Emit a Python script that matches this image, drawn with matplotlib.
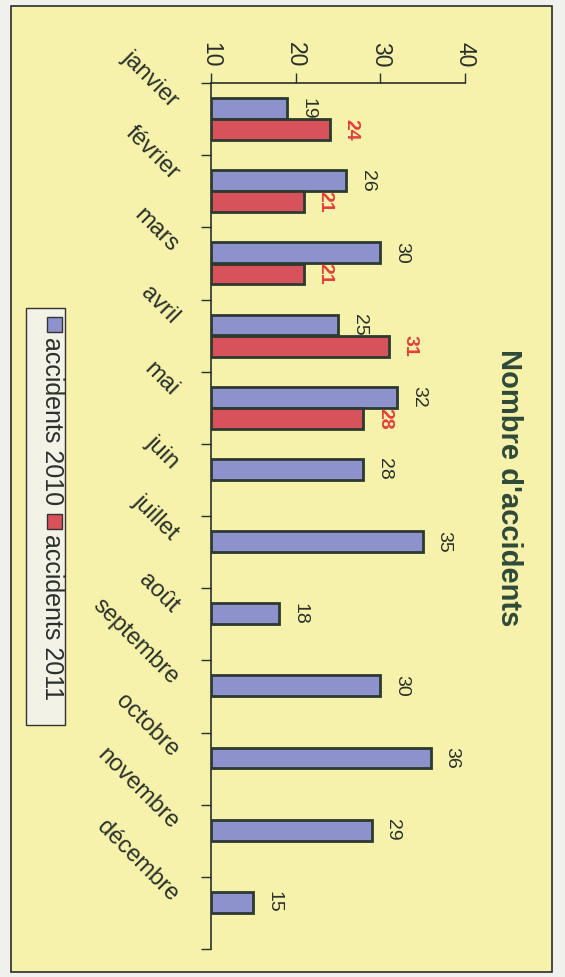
import matplotlib
matplotlib.use('Agg')
import matplotlib.pyplot as plt
from matplotlib.patches import Rectangle
import matplotlib.transforms as mtransforms

months = ['janvier', 'février', 'mars', 'avril', 'mai', 'juin', 'juillet',
          'août', 'septembre', 'octobre', 'novembre', 'décembre']
acc2010 = [19, 26, 30, 25, 32, 28, 35, 18, 30, 36, 29, 15]
acc2011 = [24, 21, 21, 31, 28, None, None, None, None, None, None, None]
xticks = [10, 20, 30, 40]
title = "Nombre d'accidents"
legend_labels = ['accidents 2010', 'accidents 2011']

BLUE = '#8e92cc'
RED = '#d8525c'
EDGE = '#2d3a30'
TXT = '#2a302a'

plt.rcParams['font.family'] = ['Liberation Sans', 'DejaVu Sans']

W, H = 565, 977
fig = plt.figure(figsize=(5.65, 9.77), dpi=100)
fig.patch.set_facecolor('#f0f0ec')


def fx(px):
    return px / W


def fy(py):
    return 1 - py / H


fig.patches.append(Rectangle((fx(11), fy(972)), fx(552) - fx(11), fy(6) - fy(972),
                             transform=fig.transFigure, facecolor='#f6f2ab',
                             edgecolor='#2a2a2a', lw=1.2, zorder=-10))

ax = fig.add_axes([fx(211), fy(949), fx(465) - fx(211), fy(83) - fy(949)])
ax.set_facecolor('none')
ax.set_zorder(5)

n = len(months)
pos = list(range(n))
bh = 0.29
off = 0.147
for i in pos:
    ax.barh(i - off, acc2010[i] - 10, left=10, height=bh, color=BLUE,
            edgecolor=EDGE, linewidth=2, zorder=3)
    ax.annotate(str(acc2010[i]), (acc2010[i], i - off), xytext=(9, 0),
                textcoords='offset points', rotation=-90, ha='left', va='center',
                fontsize=14, color=TXT)
    if acc2011[i] is not None:
        ax.barh(i + off, acc2011[i] - 10, left=10, height=bh, color=RED,
                edgecolor=EDGE, linewidth=2, zorder=3)
        ax.annotate(str(acc2011[i]), (acc2011[i], i + off), xytext=(9, 0),
                    textcoords='offset points', rotation=-90, ha='left', va='center',
                    fontsize=14, color='#e63c3a', fontweight='bold')

ax.set_xlim(10, 40)
ax.set_ylim(n - 0.5, -0.5)

ax.xaxis.tick_top()
ax.set_xticks(xticks)
ax.set_xticklabels([str(t) for t in xticks], rotation=-90, fontsize=16.5, color=TXT)
ax.tick_params(axis='x', direction='out', length=7, width=1, color=TXT, pad=4)

ax.set_yticks([i - 0.5 for i in range(n + 1)])
ax.set_yticklabels([])
ax.tick_params(axis='y', direction='out', length=7, width=1, color=TXT)

for s in ['right', 'bottom']:
    ax.spines[s].set_visible(False)
for s in ['top', 'left']:
    ax.spines[s].set_color(TXT)
    ax.spines[s].set_linewidth(1.2)

trans = ax.get_yaxis_transform() + mtransforms.ScaledTranslation(-36 / 100, 15 / 100, fig.dpi_scale_trans)
for i, m in enumerate(months):
    ax.text(0, i, m, transform=trans, rotation=-45, rotation_mode='anchor',
            ha='right', va='center', fontsize=17, color=TXT)

fig.text(fx(509), fy(488), title, rotation=-90, ha='center', va='center',
         fontsize=21, fontweight='bold', color='#2f4a3a')

# legend box
fig.patches.append(Rectangle((fx(26), fy(725)), fx(65) - fx(26), fy(308) - fy(725),
                             transform=fig.transFigure, facecolor='#f3f2e6',
                             edgecolor='#333333', lw=1.0, zorder=2))
mk = 15
for (ytop, col, lab, ytext) in [(317, BLUE, legend_labels[0], 337), (514, RED, legend_labels[1], 534)]:
    fig.patches.append(Rectangle((fx(47), fy(ytop + mk)), fx(47 + mk) - fx(47), fy(ytop) - fy(ytop + mk),
                                 transform=fig.transFigure, facecolor=col,
                                 edgecolor='#333333', lw=1.0, zorder=3))
    fig.text(fx(52), fy(ytext), lab, rotation=-90, ha='center', va='top',
             fontsize=18, color=TXT, zorder=4)

fig.savefig('out.png', dpi=100, facecolor=fig.get_facecolor())
